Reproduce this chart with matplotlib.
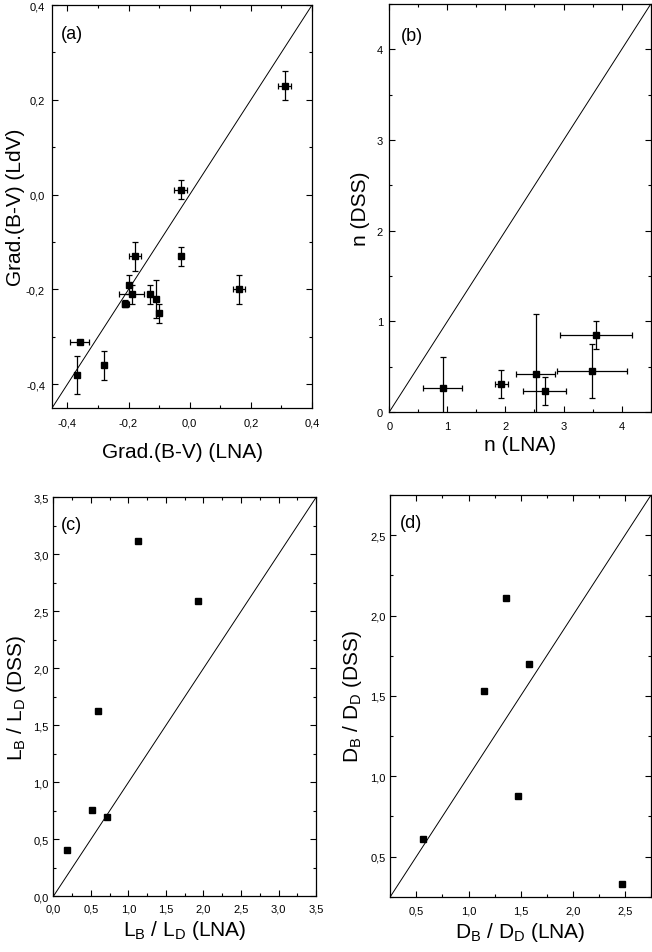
import numpy as np
import matplotlib
matplotlib.use("Agg")
import matplotlib.pyplot as plt
from matplotlib.ticker import MultipleLocator, FuncFormatter

plt.rcParams['font.family'] = ['Liberation Sans', 'DejaVu Sans']
plt.rcParams['mathtext.fontset'] = 'custom'
plt.rcParams['mathtext.rm'] = 'Liberation Sans'

# (a) gradiente de color
grad_lna = [0.31, -0.03, -0.18, -0.03, -0.20, -0.19, -0.21, -0.13, -0.11, -0.10, 0.16, -0.36, -0.28, -0.37]
grad_ldv = [0.23, 0.01, -0.13, -0.13, -0.19, -0.21, -0.23, -0.21, -0.22, -0.25, -0.20, -0.31, -0.36, -0.38]
grad_lna_err = [0.02, 0.02, 0.02, 0.0, 0.0, 0.04, 0.01, 0.0, 0.0, 0.0, 0.02, 0.03, 0.0, 0.0]
grad_ldv_err = [0.03, 0.02, 0.03, 0.02, 0.02, 0.02, 0.007, 0.02, 0.04, 0.02, 0.03, 0.0, 0.03, 0.04]

# (b) indice de Sersic
n_lna = [0.92, 1.93, 2.52, 2.68, 3.49, 3.56]
n_dss = [0.26, 0.31, 0.42, 0.23, 0.45, 0.85]
n_lna_err = [0.34, 0.11, 0.33, 0.37, 0.61, 0.62]
n_dss_err = [0.35, 0.155, 0.66, 0.155, 0.30, 0.15]

# (c) cociente de luminosidades
lbld_lna = [0.18, 0.52, 0.71, 0.59, 1.13, 1.93]
lbld_dss = [0.41, 0.76, 0.70, 1.63, 3.12, 2.59]

# (d) cociente de diametros
dbdd_lna = [0.56, 1.15, 1.36, 1.58, 1.47, 2.47]
dbdd_dss = [0.61, 1.53, 2.11, 1.70, 0.88, 0.33]


def coma(fmt):
    return FuncFormatter(lambda v, p: (fmt % v).replace('.', ','))


def estilo(ax, lim, mayor, menor, fmt, xpad, ypad):
    ax.set_xlim(lim)
    ax.set_ylim(lim)
    ax.plot(lim, lim, color='black', lw=0.7)
    for eje in (ax.xaxis, ax.yaxis):
        eje.set_major_locator(MultipleLocator(mayor))
        eje.set_minor_locator(MultipleLocator(menor))
        eje.set_major_formatter(coma(fmt))
    ax.tick_params(which='both', direction='in', top=True, right=True, labelsize=8, width=0.8)
    ax.tick_params(axis='x', pad=xpad)
    ax.tick_params(axis='y', pad=ypad)
    ax.tick_params(which='major', length=4)
    ax.tick_params(which='minor', length=2.5)
    for s in ax.spines.values():
        s.set_linewidth(0.9)


fig = plt.figure(figsize=(6.52, 9.53), dpi=100)
ax_a = fig.add_axes([0.0798, 0.5708, 0.3988, 0.4229])
ax_b = fig.add_axes([0.597, 0.5666, 0.401, 0.428])
ax_c = fig.add_axes([0.0818, 0.0584, 0.403, 0.4187])
ax_d = fig.add_axes([0.5986, 0.0580, 0.3999, 0.4215])

err_kw = dict(fmt='s', color='black', ms=4.5, elinewidth=0.9, capsize=2.5, capthick=0.9)

estilo(ax_a, (-0.45, 0.4), 0.2, 0.1, '%.1f', 7, 5)
ax_a.errorbar(grad_lna, grad_ldv, xerr=grad_lna_err, yerr=grad_ldv_err, **err_kw)
ax_a.set_xlabel('Grad.(B-V) (LNA)', fontsize=15, labelpad=10.5)
ax_a.set_ylabel('Grad.(B-V) (LdV)', fontsize=15, labelpad=0.5)
ax_a.text(0.035, 0.95, '(a)', transform=ax_a.transAxes, fontsize=13, va='top')

estilo(ax_b, (0, 4.5), 1, 0.5, '%.0f', 6.5, 4.5)
ax_b.errorbar(n_lna, n_dss, xerr=n_lna_err, yerr=n_dss_err, **err_kw)
ax_b.set_xlabel('n (LNA)', fontsize=15, labelpad=3)
ax_b.set_ylabel('n (DSS)', fontsize=15, labelpad=4.5)
ax_b.text(0.045, 0.945, '(b)', transform=ax_b.transAxes, fontsize=13, va='top')

estilo(ax_c, (0, 3.5), 0.5, 0.25, '%.1f', 5.5, 3.5)
ax_c.plot(lbld_lna, lbld_dss, 's', color='black', ms=4.5)
ax_c.set_xlabel(r'L$_\mathrm{B}$ / L$_\mathrm{D}$ (LNA)', fontsize=15, labelpad=2.7)
ax_c.set_ylabel(r'L$_\mathrm{B}$ / L$_\mathrm{D}$ (DSS)', fontsize=15, labelpad=4)
ax_c.text(0.03, 0.953, '(c)', transform=ax_c.transAxes, fontsize=13, va='top')

estilo(ax_d, (0.25, 2.75), 0.5, 0.25, '%.1f', 6.5, 3.5)
ax_d.plot(dbdd_lna, dbdd_dss, 's', color='black', ms=4.5)
ax_d.set_xlabel(r'D$_\mathrm{B}$ / D$_\mathrm{D}$ (LNA)', fontsize=15, labelpad=3)
ax_d.set_ylabel(r'D$_\mathrm{B}$ / D$_\mathrm{D}$ (DSS)', fontsize=15, labelpad=4)
ax_d.text(0.035, 0.953, '(d)', transform=ax_d.transAxes, fontsize=13, va='top')

fig.savefig('out.png', dpi=100)
